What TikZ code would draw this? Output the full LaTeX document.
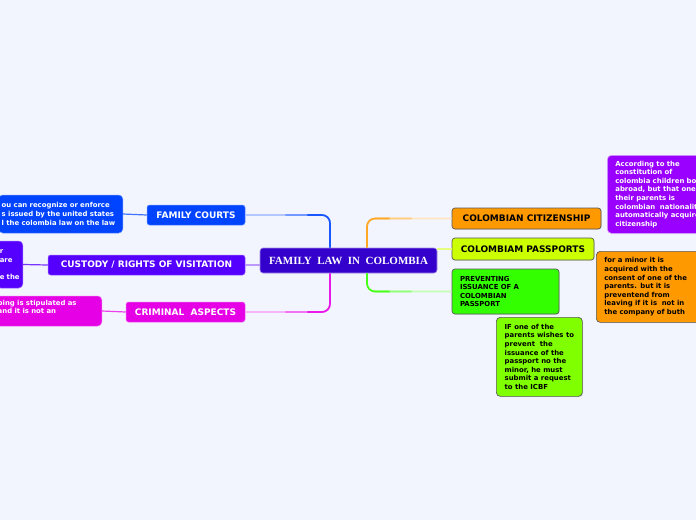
\documentclass[tikz,border=0pt]{standalone}
\usepackage{fontspec}
\setmainfont{DejaVu Sans}
\newfontfamily\titleserif{Liberation Serif}
\usetikzlibrary{shadows}

\definecolor{bgpaper}{RGB}{243,245,254}
\definecolor{rootviolet}{RGB}{51,0,204}
\definecolor{courtblue}{RGB}{0,68,255}
\definecolor{custviolet}{RGB}{85,0,255}
\definecolor{crimmagenta}{RGB}{230,0,230}
\definecolor{citorange}{RGB}{255,153,0}
\definecolor{passyellow}{RGB}{204,255,0}
\definecolor{prevgreen}{RGB}{51,255,0}
\definecolor{notepurple}{RGB}{153,0,255}
\definecolor{notelime}{RGB}{128,255,0}

\newcommand{\branchsize}{\fontsize{9pt}{10pt}\selectfont\bfseries}
\newcommand{\notesize}{\fontsize{6.9pt}{8.6pt}\selectfont\bfseries}

\tikzstyle{root} = [rectangle, rounded corners=3pt,
minimum width=177pt,
minimum height=25pt,
inner sep=0pt,
fill=rootviolet,
draw=rootviolet!45!white,
line width=0.6pt,
text=white,
font=\titleserif\fontsize{11pt}{12pt}\selectfont\bfseries]
\tikzstyle{leftbranch} = [rectangle, rounded corners=2.5pt,
minimum height=20pt,
inner sep=0pt,
text=white,
line width=0.5pt,
font=\branchsize]
\tikzstyle{rightbranch} = [rectangle, rounded corners=3pt,
inner sep=0pt,
text=black,
draw=black!65,
line width=0.7pt,
drop shadow={shadow xshift=0.7pt, shadow yshift=-0.7pt, opacity=0.25},
font=\branchsize]
\tikzstyle{leftnote} = [rectangle, rounded corners=4pt,
anchor=east,
inner xsep=3pt,
align=left,
text=white,
line width=0.5pt,
font=\notesize]
\tikzstyle{rightnote} = [rectangle, rounded corners=4pt,
anchor=north west,
inner xsep=8pt, inner ysep=5pt,
align=left,
draw=black!65,
line width=0.7pt,
drop shadow={shadow xshift=0.7pt, shadow yshift=-0.7pt, opacity=0.25},
font=\notesize]
\tikzstyle{link} = [line width=1.6pt, rounded corners=8pt]

\begin{document}
\begin{tikzpicture}[x=1pt, y=-1pt]
		\useasboundingbox (0,0) rectangle (696,520);
		\clip (0,0) rectangle (696,520);
		\fill[bgpaper] (0,0) rectangle (696,520);
		
		\node (root) [root] at (348.5,260.5) {FAMILY~~LAW~~IN~~COLOMBIA};
		
		\node (courts) [leftbranch, fill=courtblue, draw=courtblue!60!white, minimum width=98pt] at (196,215) {FAMILY COURTS};
		\node (custody) [leftbranch, fill=custviolet, draw=custviolet!60!white, minimum width=197pt] at (146.5,265) {CUSTODY / RIGHTS OF VISITATION};
		\node (criminal) [leftbranch, fill=crimmagenta, draw=crimmagenta!60!white, minimum width=119pt] at (185.5,312) {CRIMINAL~~ASPECTS};
		
		\node (courtnote) [leftnote, fill=courtblue, draw=courtblue!60!white, text width=118pt, minimum height=38pt] at (123,214) {ou can recognize or enforce\\s issued by the united states\\l the colombia law on the law};
		\node (custnote) [leftnote, fill=custviolet, draw=custviolet!60!white, text width=20pt, minimum height=47pt] at (23,264.5) {r\\are\\\mbox{}\\e the};
		\node (crimnote) [leftnote, fill=crimmagenta, draw=crimmagenta!60!white, text width=101pt, minimum height=30pt] at (102,311) {ping is stipulated as\\and it is not an\\\mbox{}};
		
		\node (citizen) [rightbranch, fill=citorange, minimum width=149pt, minimum height=21pt] at (526.5,218.5) {COLOMBIAN CITIZENSHIP};
		\node (passports) [rightbranch, fill=passyellow, minimum width=142pt, minimum height=22pt] at (523,249) {COLOMBIAM PASSPORTS};
		\node (prevent) [rightbranch, fill=prevgreen, inner xsep=8pt, text width=91pt, minimum height=45pt, align=left, font=\notesize] at (505.5,291.5) {PREVENTING\\ISSUANCE OF A\\COLOMBIAN\\PASSPORT};
		
		\node (citnote) [rightnote, fill=notepurple, draw=notepurple!35!white, text=white, text width=100pt, minimum height=78pt] at (607,155) {According to the\\constitution of\\colombia children bo\\abroad, but that one\\their parents is\\colombian~~nationalit\\automatically acquire\\citizenship};
		\node (passnote) [rightnote, fill=citorange, text width=100pt, minimum height=71pt] at (596,251) {for a minor it is\\acquired with the\\consent of one of the\\parents. but it is\\preventend from\\leaving if it is~~not in\\the company of buth};
		\node (prevnote) [rightnote, fill=notelime, minimum width=86pt, minimum height=79pt] at (496,317) {IF one of the\\parents wishes to\\prevent~~the\\issuance of the\\passport no the\\minor, he must\\submit a request\\to the ICBF};
		
		% links on the left
		\draw [link, courtblue!30!white] ([xshift=-18.5pt]root.north) |- (courts.east);
		\draw [link, courtblue!55!white] ([xshift=-18.5pt]root.north) |- ([xshift=40pt]courts.east);
		\draw [link, courtblue!90!white] ([xshift=-18.5pt]root.north) |- ([xshift=62pt]courts.east);
		\draw [link, custviolet!40!white] (custody.east -| root.west) -- (custody.east);
		\draw [link, crimmagenta!30!white] ([xshift=-18.5pt]root.south) |- (criminal.east);
		\draw [link, crimmagenta!55!white] ([xshift=-18.5pt]root.south) |- ([xshift=40pt]criminal.east);
		\draw [link, crimmagenta!90!white] ([xshift=-18.5pt]root.south) |- ([xshift=62pt]criminal.east);
		
		\draw [link, line width=1.2pt, courtblue!75!white] (courtnote.east) -- (courts.west);
		\draw [link, line width=1.2pt, custviolet!80!white] (custnote.east) -- (custody.west);
		\draw [link, line width=1.2pt, crimmagenta!75!white] (crimnote.east) -- (criminal.west);
		
		% links on the right
		\draw [link, citorange!25!white] ([xshift=18.5pt]root.north) |- (citizen.west);
		\draw [link, citorange!50!white] ([xshift=18.5pt]root.north) |- ([xshift=-40pt]citizen.west);
		\draw [link, citorange!85!white] ([xshift=18.5pt]root.north) |- ([xshift=-62pt]citizen.west);
		\draw [link, passyellow!50!white] (passports.west -| root.east) -- (passports.west);
		\draw [link, prevgreen!30!white] ([xshift=18.5pt]root.south) |- (prevent.west);
		\draw [link, prevgreen!55!white] ([xshift=18.5pt]root.south) |- ([xshift=-40pt]prevent.west);
		\draw [link, prevgreen!90!white] ([xshift=18.5pt]root.south) |- ([xshift=-62pt]prevent.west);
		
	\end{tikzpicture}
\end{document}
